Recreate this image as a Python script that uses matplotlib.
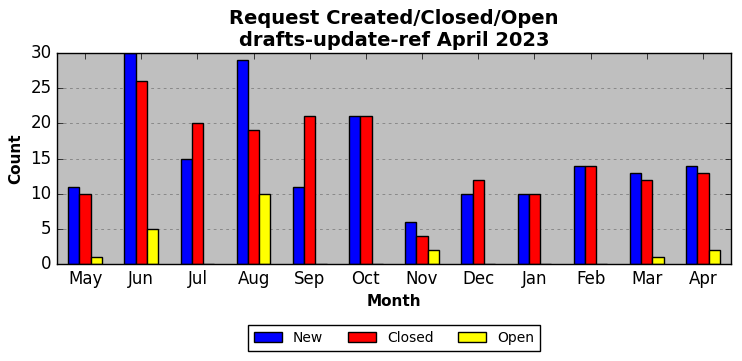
import matplotlib
matplotlib.use("Agg")
import matplotlib.pyplot as plt
import numpy as np

plt.style.use("classic")

months = ["May", "Jun", "Jul", "Aug", "Sep", "Oct", "Nov", "Dec", "Jan", "Feb", "Mar", "Apr"]
new = [11, 30, 15, 29, 11, 21, 6, 10, 10, 14, 13, 14]
closed = [10, 26, 20, 19, 21, 21, 4, 12, 10, 14, 12, 13]
open_ = [1, 5, 0, 10, 0, 0, 2, 0, 0, 0, 1, 2]

fig = plt.figure(figsize=(7.42, 3.61), dpi=100, facecolor="white")
ax = fig.add_axes([57 / 742, 1 - 264 / 361, (731 - 57) / 742, (264 - 53) / 361])
ax.set_facecolor("#bfbfbf")

x = np.arange(len(months))
w = 0.2
ax.bar(x - w, new, w, color="blue", edgecolor="black", label="New", align="center")
ax.bar(x, closed, w, color="red", edgecolor="black", label="Closed", align="center")
ax.bar(x + w, open_, w, color="yellow", edgecolor="black", label="Open", align="center")

ax.set_xlim(-0.5, len(months) - 0.5)
ax.set_ylim(0, 30)
ax.set_xticks(x)
ax.set_xticklabels(months)
ax.set_yticks([0, 5, 10, 15, 20, 25, 30])
ax.yaxis.grid(True, color="#808080", linestyle=(0, (2, 2.5)), linewidth=0.6)
ax.set_axisbelow(True)
ax.set_xlabel("Month", fontweight="bold", fontsize=11)
ax.set_ylabel("Count", fontweight="bold", fontsize=11)
ax.set_title("Request Created/Closed/Open\ndrafts-update-ref April 2023", fontweight="bold", fontsize=14)

ax.legend(loc="center", bbox_to_anchor=(394 / 742, 1 - 338 / 361), bbox_transform=fig.transFigure,
          ncol=3, fontsize=10, frameon=True, columnspacing=1.8)

fig.savefig("out.png", dpi=100, facecolor="white")
